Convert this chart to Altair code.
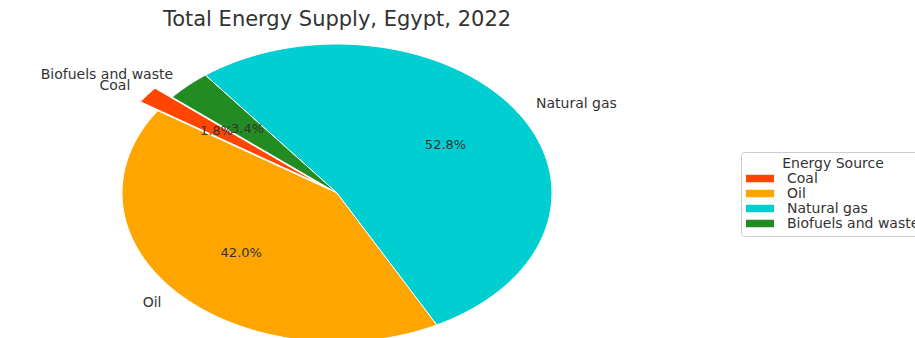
import altair as alt
import pandas as pd

# ---- data ----
sources = ["Coal", "Oil", "Natural gas", "Biofuels and waste"]
shares = [1.8, 42.0, 52.8, 3.4]
colors = ["#FF4500", "#FFA500", "#00CED1", "#228B22"]
exploded = ["Coal"]
start_angle = 140  # degrees, counter-clockwise from +x

df = pd.DataFrame({"source": sources, "share": shares, "idx": list(range(len(sources)))})

# plot-area geometry (ellipse centre at 337,193 px; radii 215 x 149 px)
W, H, PAD_TOP = 915, 308, 30
cx, cy, rx, ry = 337.0, 193.0, 215.0, 149.0
xs = alt.Scale(domain=[-cx / rx, (W - cx) / rx], nice=False, zero=False)
ys = alt.Scale(domain=[-(338 - cy) / ry, (cy - PAD_TOP) / ry], nice=False, zero=False)

expl_expr = "indexof(" + str(exploded) + ", datum.source) >= 0 ? 0.1 : 0"

base = (
    alt.Chart(df)
    .transform_joinaggregate(total="sum(share)")
    .transform_window(cum="sum(share)", sort=[alt.SortField("idx")], frame=[None, 0])
    .transform_calculate(a0=f"({start_angle} + 360*(datum.cum - datum.share)/datum.total)*PI/180")
    .transform_calculate(a1=f"({start_angle} + 360*datum.cum/datum.total)*PI/180")
    .transform_calculate(am="(datum.a0 + datum.a1)/2")
    .transform_calculate(ex=expl_expr)
)

legend = alt.Legend(
    title="Energy Source",
    orient="none",
    legendX=741,
    legendY=122,
    symbolType="M-1,-0.27H1V0.27H-1Z",
    symbolSize=784,
    clipHeight=15,
    rowPadding=0,
    labelOffset=13,
    labelFontSize=14,
    titleFontSize=14,
    labelFont="DejaVu Sans",
    titleFont="DejaVu Sans",
    titleFontWeight="normal",
    titleAnchor="middle",
    titleColor="#333333",
    labelColor="#333333",
    titlePadding=0,
    padding=5,
    strokeColor="#cccccc",
    cornerRadius=3,
    fillColor="white",
    symbolStrokeWidth=0,
    labelLimit=400,
)

wedges = (
    base.transform_calculate(steps="sequence(0, 91)")
    .transform_flatten(["steps"])
    .transform_calculate(ang="datum.a0 + (datum.a1 - datum.a0) * (datum.steps - 1) / 89")
    .transform_calculate(px="datum.ex*cos(datum.am) + (datum.steps == 0 ? 0 : cos(datum.ang))")
    .transform_calculate(py="datum.ex*sin(datum.am) + (datum.steps == 0 ? 0 : sin(datum.ang))")
    .mark_line(interpolate="linear-closed", stroke="white", strokeWidth=1, fillOpacity=1)
    .encode(
        x=alt.X("px:Q", scale=xs, axis=None),
        y=alt.Y("py:Q", scale=ys, axis=None),
        fill=alt.Fill("source:N", scale=alt.Scale(domain=sources, range=colors), sort=sources, legend=legend),
        detail="source:N",
        order=alt.Order("steps:Q"),
    )
)

lab = base.transform_calculate(
    lx="(datum.ex + 1.1)*cos(datum.am)"
).transform_calculate(
    ly="(datum.ex + 1.1)*sin(datum.am)"
)

txt_style = dict(font="DejaVu Sans", fontSize=14, color="#333333", baseline="middle")

labels_left = lab.transform_filter("cos(datum.am) < 0").mark_text(align="right", **txt_style).encode(
    x=alt.X("lx:Q", scale=xs, axis=None), y=alt.Y("ly:Q", scale=ys, axis=None), text="source:N"
)
labels_right = lab.transform_filter("cos(datum.am) >= 0").mark_text(align="left", **txt_style).encode(
    x=alt.X("lx:Q", scale=xs, axis=None), y=alt.Y("ly:Q", scale=ys, axis=None), text="source:N"
)

pct = (
    base.transform_calculate(tx="(datum.ex + 0.6)*cos(datum.am)")
    .transform_calculate(ty="(datum.ex + 0.6)*sin(datum.am)")
    .transform_calculate(pt="format(datum.share/datum.total*100, '.1f') + '%'")
    .mark_text(align="center", font="DejaVu Sans", fontSize=13, color="#333333", baseline="middle")
    .encode(x=alt.X("tx:Q", scale=xs, axis=None), y=alt.Y("ty:Q", scale=ys, axis=None), text="pt:N")
)

chart = (
    alt.layer(wedges, pct, labels_left, labels_right)
    .properties(
        width=W,
        height=H,
        autosize=alt.AutoSizeParams(type="none"),
        padding={"left": 0, "top": PAD_TOP, "right": 0, "bottom": 0},
        title=alt.Title(
            "Total Energy Supply, Egypt, 2022",
            fontSize=21,
            font="DejaVu Sans",
            fontWeight="normal",
            color="#333333",
            anchor="middle",
            dx=-120.5,
            offset=0,
        ),
    )
    .configure_view(stroke=None)
)

chart.save("out.html", embed_options={"renderer": "svg", "actions": False})
